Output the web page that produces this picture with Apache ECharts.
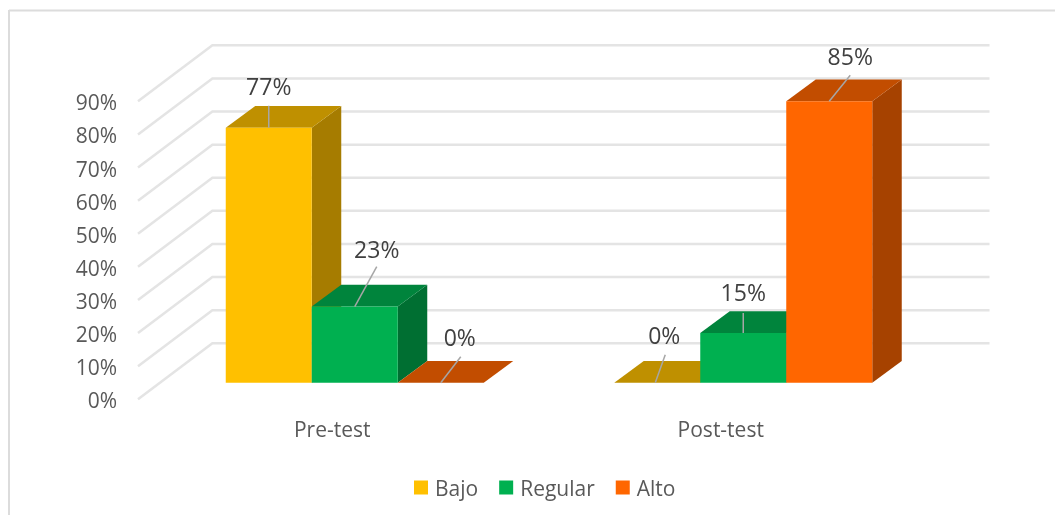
<!DOCTYPE html>
<html>
<head>
<meta charset="utf-8">
<style>
  html, body { margin: 0; padding: 0; background: #fff; }
  #chart { width: 1055px; height: 515px; }
</style>
<script src="https://cdn.jsdelivr.net/npm/echarts@6/dist/echarts.min.js"></script>
</head>
<body>
<div id="chart"></div>
<script>
const categories = ['Pre-test', 'Post-test'];
const yTicks = [0, 10, 20, 30, 40, 50, 60, 70, 80, 90];
const bajo = [77, 0];
const regular = [23, 15];
const alto = [0, 85];

const FONT = '"Open Sans", "Noto Sans", sans-serif';

// fake 3d: how far the walls and the bars sit behind the front plane
const WALL = [74.4, -56];
const BAR_PLANE = [22.5, -16.6];
const BAR_DEPTH = [29.5, -21.7];
const BAR_WIDTH = 86;

// leader line end and label centre, relative to the top of the bar front
const callouts = {
  Bajo: [{ line: [0, -22], text: [0, -39.5] }, { start: -2, line: [8, -28], text: [7, -45] }],
  Regular: [{ line: [22, -40], text: [22, -55] }, { line: [0, -20], text: [0, -39] }],
  Alto: [{ line: [20, -26], text: [19, -43.5] }, { line: [21, -26], text: [21, -43] }]
};

function poly(points, fill) {
  return { type: 'polygon', shape: { points }, style: { fill } };
}

function barSeries(name, values, slot, colors) {
  return {
    name,
    type: 'custom',
    itemStyle: { color: colors.front },
    encode: { x: 0, y: 1 },
    data: values.map((v, i) => [i, v]),
    z: 5,
    renderItem(params, api) {
      const idx = api.value(0);
      const top = api.coord([idx, api.value(1)]);
      const base = api.coord([idx, 0]);
      const x0 = top[0] + BAR_PLANE[0] + (slot - 1.5) * BAR_WIDTH;
      const x1 = x0 + BAR_WIDTH;
      const yb = base[1] + BAR_PLANE[1];
      const yt = top[1] + BAR_PLANE[1];
      const dx = BAR_DEPTH[0];
      const dy = BAR_DEPTH[1];
      const cx = (x0 + x1) / 2;
      const c = callouts[name][idx];
      return {
        type: 'group',
        children: [
          poly([[x1, yb], [x1 + dx, yb + dy], [x1 + dx, yt + dy], [x1, yt]], colors.side),
          poly([[x0, yt], [x1, yt], [x1 + dx, yt + dy], [x0 + dx, yt + dy]], colors.top),
          poly([[x0, yb], [x1, yb], [x1, yt], [x0, yt]], colors.front),
          {
            type: 'line',
            z2: 10,
            shape: { x1: cx + (c.start || 0), y1: yt, x2: cx + c.line[0], y2: yt + c.line[1] },
            style: { stroke: '#a6a6a6', lineWidth: 1.5 }
          },
          {
            type: 'text',
            z2: 10,
            style: {
              text: api.value(1) + '%',
              x: cx + c.text[0],
              y: yt + c.text[1],
              fill: '#404040',
              font: '23px ' + FONT,
              textAlign: 'center',
              textVerticalAlign: 'middle'
            }
          }
        ]
      };
    }
  };
}

const chart = echarts.init(document.getElementById('chart'), null, { renderer: 'canvas' });

chart.setOption({
  animation: false,
  backgroundColor: '#fff',
  graphic: [
    { type: 'line', shape: { x1: 9, y1: 10.5, x2: 1055, y2: 10.5 }, style: { stroke: '#dcdcdc', lineWidth: 2 } },
    { type: 'line', shape: { x1: 9, y1: 10, x2: 9, y2: 515 }, style: { stroke: '#dcdcdc', lineWidth: 2 } }
  ],
  grid: { left: 138, top: 101.3, width: 777, height: 298 },
  legend: {
    left: 414,
    top: 480,
    padding: 0,
    icon: 'rect',
    itemWidth: 14,
    itemHeight: 14,
    itemGap: 21,
    formatter: '{t|{name}}',
    textStyle: {
      color: '#595959',
      fontSize: 21,
      fontFamily: FONT,
      rich: { t: { color: '#595959', fontSize: 21, fontFamily: FONT, padding: [6, 0, 0, 2] } }
    },
    data: ['Bajo', 'Regular', 'Alto']
  },
  xAxis: {
    type: 'category',
    data: categories,
    axisLine: { show: false },
    axisTick: { show: false },
    axisLabel: { color: '#595959', fontSize: 21, fontFamily: FONT, margin: 21 }
  },
  yAxis: {
    type: 'value',
    min: 0,
    max: 90,
    interval: 10,
    axisLine: { show: false },
    axisTick: { show: false },
    splitLine: { show: false },
    axisLabel: {
      margin: 21,
      formatter: '{v|{value}%}',
      rich: { v: { color: '#595959', fontSize: 21, fontFamily: FONT, padding: [6, 0, 0, 0] } }
    }
  },
  series: [
    {
      type: 'custom',
      silent: true,
      z: 1,
      encode: { y: 0 },
      data: yTicks.map(v => [v]),
      renderItem(params, api) {
        const front = [138, api.coord([0, api.value(0)])[1]];
        const back = [front[0] + WALL[0], front[1] + WALL[1]];
        return {
          type: 'polyline',
          shape: { points: [front, back, [989.5, back[1]]] },
          style: { stroke: '#e4e4e4', lineWidth: 2.5, fill: null }
        };
      }
    },
    barSeries('Bajo', bajo, 0, { front: '#ffc000', top: '#bf9000', side: '#a67c00' }),
    barSeries('Regular', regular, 1, { front: '#00b050', top: '#00843c', side: '#006f32' }),
    barSeries('Alto', alto, 2, { front: '#ff6600', top: '#c24d00', side: '#a64200' })
  ]
});
</script>
</body>
</html>
